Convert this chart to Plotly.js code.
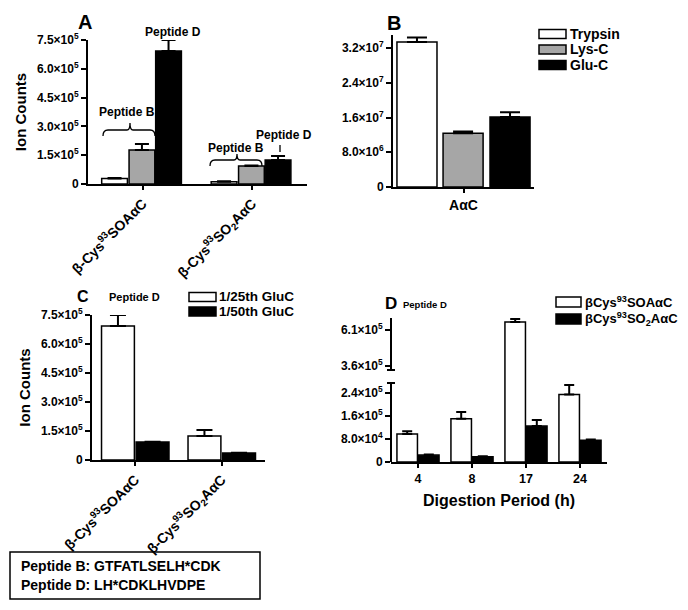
<!DOCTYPE html>
<html><head><meta charset="utf-8">
<script src="https://cdn.plot.ly/plotly-3.0.1.min.js"></script>
<style>html,body{margin:0;padding:0;background:#fff}#chart{width:688px;height:610px}</style>
</head><body><div id="chart"></div>
<script>
// ---------- DATA ----------
// Panel A: ion counts per peptide form and protease
const catsA = ['β-Cys<sup>93</sup>SOAαC', 'β-Cys<sup>93</sup>SO<sub>2</sub>AαC'];
const proteaseNames = ['Trypsin', 'Lys-C', 'Glu-C'];
const trypsinA = [28000, 12000];
const trypsinAErr = [3000, 2000];
const lysCA = [177000, 94000];
const lysCAErr = [31000, 3000];
const gluCA = [693000, 125000];
const gluCAErr = [57000, 21000];
const yTickValsA = [0, 150000, 300000, 450000, 600000, 750000];
const yTickTextA = ['0', '1.5×10<sup>5</sup>', '3.0×10<sup>5</sup>', '4.5×10<sup>5</sup>', '6.0×10<sup>5</sup>', '7.5×10<sup>5</sup>'];

// Panel B: AαC ion counts per protease
const catsB = ['AαC'];
const trypsinB = [33400000];
const trypsinBErr = [1000000];
const lysCB = [12400000];
const lysCBErr = [400000];
const gluCB = [16100000];
const gluCBErr = [1100000];
const yTickValsB = [0, 8000000, 16000000, 24000000, 32000000];
const yTickTextB = ['0', '8.0×10<sup>6</sup>', '1.6×10<sup>7</sup>', '2.4×10<sup>7</sup>', '3.2×10<sup>7</sup>'];

// Panel C: Glu-C enzyme ratio
const catsC = ['β-Cys<sup>93</sup>SOAαC', 'β-Cys<sup>93</sup>SO<sub>2</sub>AαC'];
const ratioNames = ['1/25th GluC', '1/50th GluC'];
const ratio25 = [693000, 124000];
const ratio25Err = [57000, 31000];
const ratio50 = [93000, 36000];
const ratio50Err = [2000, 2000];
const yTickValsC = yTickValsA;
const yTickTextC = yTickTextA;

// Panel D: digestion period
const hoursD = ['4', '8', '17', '24'];
const formNames = ['βCys<sup>93</sup>SOAαC', 'βCys<sup>93</sup>SO<sub>2</sub>AαC'];
const soaD = [97000, 150000, 666000, 235000];
const soaDErr = [10000, 24000, 21000, 33000];
const so2D = [24000, 18000, 125000, 76000];
const so2DErr = [2000, 2000, 21000, 2000];
const yTickValsDLow = [0, 80000, 160000, 240000];
const yTickTextDLow = ['0', '8.0×10<sup>4</sup>', '1.6×10<sup>5</sup>', '2.4×10<sup>5</sup>'];
const yTickValsDHigh = [360000, 610000];
const yTickTextDHigh = ['3.6×10<sup>5</sup>', '6.1×10<sup>5</sup>'];

// Peptide sequences
const peptideLines = ['Peptide B: GTFATLSELH*CDK', 'Peptide D: LH*CDKLHVDPE'];

// ---------- STYLE / LAYOUT ----------
const W = 688, H = 610;
const fx = x => x / W;
const fy = y => 1 - y / H;
const FONT = 'Liberation Sans, Arial, sans-serif';
const WHITE = '#ffffff', GRAY = '#a6a6a6', BLACK = '#000000';
const fillsABC = [WHITE, GRAY, BLACK];
const B = s => '<b>' + s + '</b>';

function bar(x, y, err, fill, xa, ya, width, offset, errW) {
  return {
    type: 'bar', x: x, y: y, xaxis: xa, yaxis: ya,
    width: width, offset: offset,
    marker: {color: fill, line: {color: BLACK, width: 1.5}},
    error_y: {type: 'data', array: err, arrayminus: err.map(() => 0), symmetric: false,
              color: BLACK, thickness: 2, width: errW},
    showlegend: false, hoverinfo: 'skip'
  };
}

const traces = [];
// A
[[trypsinA, trypsinAErr], [lysCA, lysCAErr], [gluCA, gluCAErr]].forEach((s, i) => {
  traces.push(bar(catsA, s[0], s[1], fillsABC[i], 'x', 'y', 0.235, [-0.375, -0.125, 0.118][i], 7));
});
// B
[[trypsinB, trypsinBErr], [lysCB, lysCBErr], [gluCB, gluCBErr]].forEach((s, i) => {
  traces.push(bar(catsB, s[0], s[1], fillsABC[i], 'x2', 'y2', 0.284, [-0.472, -0.145, 0.188][i], 10));
});
// C
[[ratio25, ratio25Err, WHITE], [ratio50, ratio50Err, BLACK]].forEach((s, i) => {
  traces.push(bar(catsC, s[0], s[1], s[2], 'x3', 'y3', 0.38, [-0.39, 0.01][i], 8));
});
// D (lower and upper segments of broken axis)
[[soaD, soaDErr, WHITE], [so2D, so2DErr, BLACK]].forEach((s, i) => {
  traces.push(bar(hoursD, s[0], s[1], s[2], 'x4', 'y4', 0.38, [-0.39, 0.01][i], 5));
  traces.push(bar(hoursD, s[0], s[1], s[2], 'x4', 'y5', 0.38, [-0.39, 0.01][i], 5));
});

function xAx(dom, anchor, cats, angle, size) {
  return {
    domain: dom, anchor: anchor, type: 'category', categoryarray: cats, categoryorder: 'array',
    tickmode: 'array', tickvals: cats, ticktext: cats.map(B),
    range: [-0.5, cats.length - 0.5], showline: true, linewidth: 2, linecolor: BLACK,
    ticks: 'outside', ticklen: 4, tickwidth: 2, tickcolor: BLACK, tickangle: angle,
    tickfont: {family: FONT, size: size, color: BLACK},
    showgrid: false, zeroline: false, fixedrange: true
  };
}
function yAx(dom, anchor, range, vals, text, showline) {
  return {
    domain: dom, anchor: anchor, range: range, tickmode: 'array', tickvals: vals, ticktext: text.map(B),
    showline: showline, linewidth: 2, linecolor: BLACK,
    ticks: 'outside', ticklen: 5, tickwidth: 2, tickcolor: BLACK,
    tickfont: {family: FONT, size: 12, color: BLACK},
    showgrid: false, zeroline: false, fixedrange: true
  };
}
const ionTitle = {text: B('Ion Counts'), font: {family: FONT, size: 15}, standoff: 7};

const layout = {
  width: W, height: H, margin: {l: 0, r: 0, t: 0, b: 0},
  paper_bgcolor: WHITE, plot_bgcolor: 'rgba(0,0,0,0)', barmode: 'overlay', showlegend: false,
  font: {family: FONT, color: BLACK},
  xaxis: xAx([fx(88), fx(307)], 'y', catsA, -45, 14),
  yaxis: Object.assign(yAx([fy(184), fy(40)], 'x', [0, 750000], yTickValsA, yTickTextA, true), {title: ionTitle}),
  xaxis2: xAx([fx(393), fx(534)], 'y2', catsB, 0, 14),
  yaxis2: yAx([fy(187), fy(35)], 'x2', [0, 35000000], yTickValsB, yTickTextB, true),
  xaxis3: xAx([fx(92), fx(265)], 'y3', catsC, -45, 14),
  yaxis3: Object.assign(yAx([fy(460), fy(315)], 'x3', [0, 750000], yTickValsC, yTickTextC, true), {title: ionTitle}),
  xaxis4: Object.assign(xAx([fx(391), fx(607)], 'y4', hoursD, 0, 12.5),
    {title: {text: B('Digestion Period (h)'), font: {family: FONT, size: 16}, standoff: 10}}),
  yaxis4: yAx([fy(462), fy(377)], 'x4', [0, 295600], yTickValsDLow, yTickTextDLow, false),
  yaxis5: yAx([fy(377), fy(318)], 'x4', [283600, 693300], yTickValsDHigh, yTickTextDHigh, false),
  shapes: [], annotations: []
};

function line(x0, y0, x1, y1, w) {
  layout.shapes.push({type: 'line', xref: 'paper', yref: 'paper', x0: fx(x0), x1: fx(x1), y0: fy(y0), y1: fy(y1),
    line: {color: BLACK, width: w || 2}});
}
function rect(x0, y0, x1, y1, fill) {
  layout.shapes.push({type: 'rect', xref: 'paper', yref: 'paper', x0: fx(x0), x1: fx(x1), y0: fy(y0), y1: fy(y1),
    fillcolor: fill, line: {color: BLACK, width: 1.5}});
}
function text(t, x, y, size, anchor) {
  layout.annotations.push({text: B(t), xref: 'paper', yref: 'paper', x: fx(x), y: fy(y), showarrow: false,
    xanchor: anchor || 'center', yanchor: 'middle',
    font: {family: FONT, size: size, color: BLACK}});
}
function brace(x0, x1, ymid, yend, ytip, xtip) {
  const p = (x, y) => fx(x) + ',' + fy(y);
  layout.shapes.push({type: 'path', xref: 'paper', yref: 'paper',
    path: 'M' + p(x0, yend) + ' Q' + p(x0, ymid) + ' ' + p(x0 + 5, ymid) + ' L' + p(xtip - 3, ymid) +
          ' Q' + p(xtip, ymid) + ' ' + p(xtip, ytip) + ' Q' + p(xtip, ymid) + ' ' + p(xtip + 3, ymid) +
          ' L' + p(x1 - 5, ymid) + ' Q' + p(x1, ymid) + ' ' + p(x1, yend),
    line: {color: BLACK, width: 1.3}});
}

// Panel letters and peptide labels
text('A', 85, 22, 20);
text('Peptide D', 173, 32, 12);
text('Peptide B', 127, 112, 12);
brace(103, 155, 130, 136, 123, 130);
text('Peptide B', 236, 148, 12);
brace(210, 262, 160, 166, 154, 237);
text('Peptide D', 284, 135, 12);
line(280, 145, 280, 152, 1.3);

text('B', 394, 23, 20);
text('C', 83, 296, 16);
text('Peptide D', 134, 297, 11);
text('D', 391, 303, 17);
text('Peptide D', 425, 304, 9.5);

// Legends
proteaseNames.forEach((n, i) => {
  const yc = 34 + i * 15.5;
  rect(539, yc - 4.5, 566, yc + 4.5, fillsABC[i]);
  text(n, 568, yc, 14, 'left');
});
ratioNames.forEach((n, i) => {
  const yc = 297 + i * 14.5;
  rect(189, yc - 4.5, 216, yc + 4.5, [WHITE, BLACK][i]);
  text(n, 217, yc, 13.5, 'left');
});
formNames.forEach((n, i) => {
  const yc = 302 + i * 17;
  rect(556, yc - 5, 581, yc + 5, [WHITE, BLACK][i]);
  text(n, 583, yc, 13, 'left');
});

// Broken y axis of panel D
line(391, 462, 391, 383);
line(391, 370, 391, 318);
line(387, 383, 395, 383);
line(387, 370, 395, 370);

// Peptide sequence box
rect(10, 552, 260, 599, 'rgba(0,0,0,0)');
peptideLines.forEach((t, i) => text(t, 19, 566 + i * 19, 14, 'left'));

Plotly.newPlot('chart', traces, layout, {displayModeBar: false, staticPlot: true});
</script>
</body></html>
